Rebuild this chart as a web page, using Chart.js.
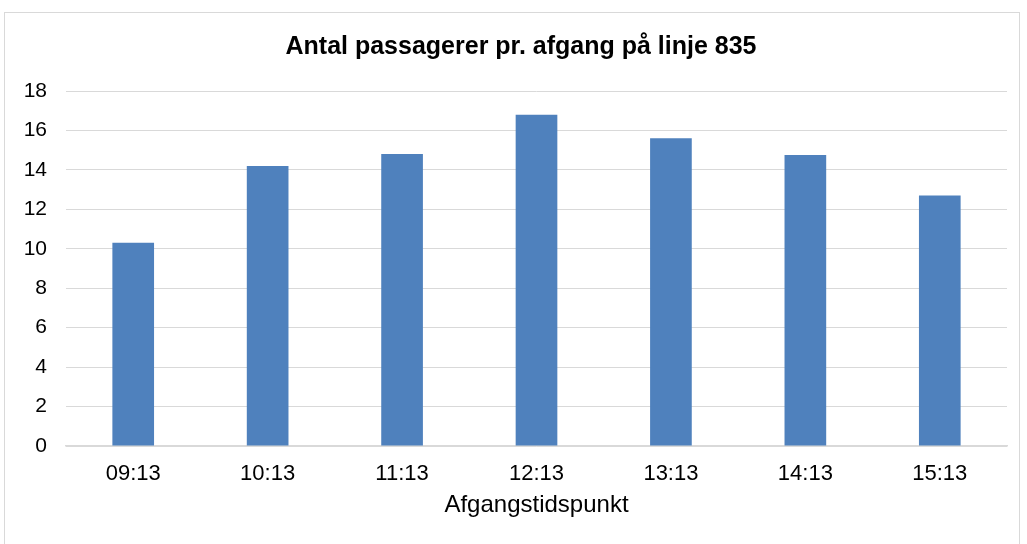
<!DOCTYPE html>
<html>
<head>
<meta charset="utf-8">
<script src="https://cdn.jsdelivr.net/npm/chart.js@4/dist/chart.umd.min.js"></script>
<style>
  html, body { margin: 0; padding: 0; background: #fff; }
  #wrap { width: 1027px; height: 544px; }
</style>
</head>
<body>
<div id="wrap"><canvas id="busChart" width="1027" height="544"></canvas></div>
<script>
// data
var departures = ["09:13", "10:13", "11:13", "12:13", "13:13", "14:13", "15:13"];
var passengers = [10.3, 14.2, 14.8, 16.8, 15.6, 14.75, 12.7];
var yTicks = [0, 2, 4, 6, 8, 10, 12, 14, 16, 18];

var chartTitle = "Antal passagerer pr. afgang på linje 835";
var xTitle = "Afgangstidspunkt";

var fontName = "'Liberation Sans', Arial, sans-serif";

// frame + title drawn straight on the canvas
var framePlugin = {
    id: "frame",
    beforeDraw: function(chart) {
        var ctx = chart.ctx;
        ctx.save();
        ctx.fillStyle = "#ffffff";
        ctx.fillRect(0, 0, chart.width, chart.height);
        ctx.strokeStyle = "#d9d9d9";
        ctx.lineWidth = 1;
        ctx.strokeRect(4.5, 12.5, 1015, 560);
        ctx.restore();
    },
    afterDraw: function(chart) {
        var ctx = chart.ctx;
        ctx.save();
        ctx.fillStyle = "#000000";
        ctx.font = "bold 25px " + fontName;
        ctx.textAlign = "center";
        ctx.textBaseline = "middle";
        ctx.fillText(chartTitle, 521, 47);
        ctx.restore();
    }
};

var ctx = document.getElementById("busChart").getContext("2d");
var chart = new Chart(ctx, {
    type: "bar",
    data: {
        labels: departures,
        datasets: [{
            label: "Passagerer",
            data: passengers,
            backgroundColor: "#4f81bd",
            borderWidth: 0,
            barPercentage: 0.31,
            categoryPercentage: 1
        }]
    },
    options: {
        responsive: false,
        animation: false,
        layout: {
            padding: { top: 91, left: 0, right: 20, bottom: 0 }
        },
        plugins: {
            legend: { display: false },
            tooltip: { enabled: false },
            title: { display: false }
        },
        scales: {
            x: {
                grid: { display: false, drawTicks: false },
                border: { display: true, color: "#d9d9d9", width: 1.5 },
                ticks: {
                    color: "#000000",
                    padding: 15,
                    font: { family: fontName, size: 22 }
                },
                title: {
                    display: true,
                    text: xTitle,
                    color: "#000000",
                    font: { family: fontName, size: 24 },
                    padding: { top: 0, bottom: 24 }
                },
                afterFit: function(scale) { scale.height = 98; }
            },
            y: {
                min: 0,
                max: 18,
                afterBuildTicks: function(scale) {
                    scale.ticks = yTicks.map(function(v) { return { value: v }; });
                },
                grid: { color: "#d9d9d9", lineWidth: 1, drawTicks: false },
                border: { display: false },
                ticks: {
                    color: "#000000",
                    padding: 19,
                    font: { family: fontName, size: 21 }
                },
                afterFit: function(scale) { scale.width = 66; }
            }
        }
    },
    plugins: [framePlugin]
});
</script>
</body>
</html>
